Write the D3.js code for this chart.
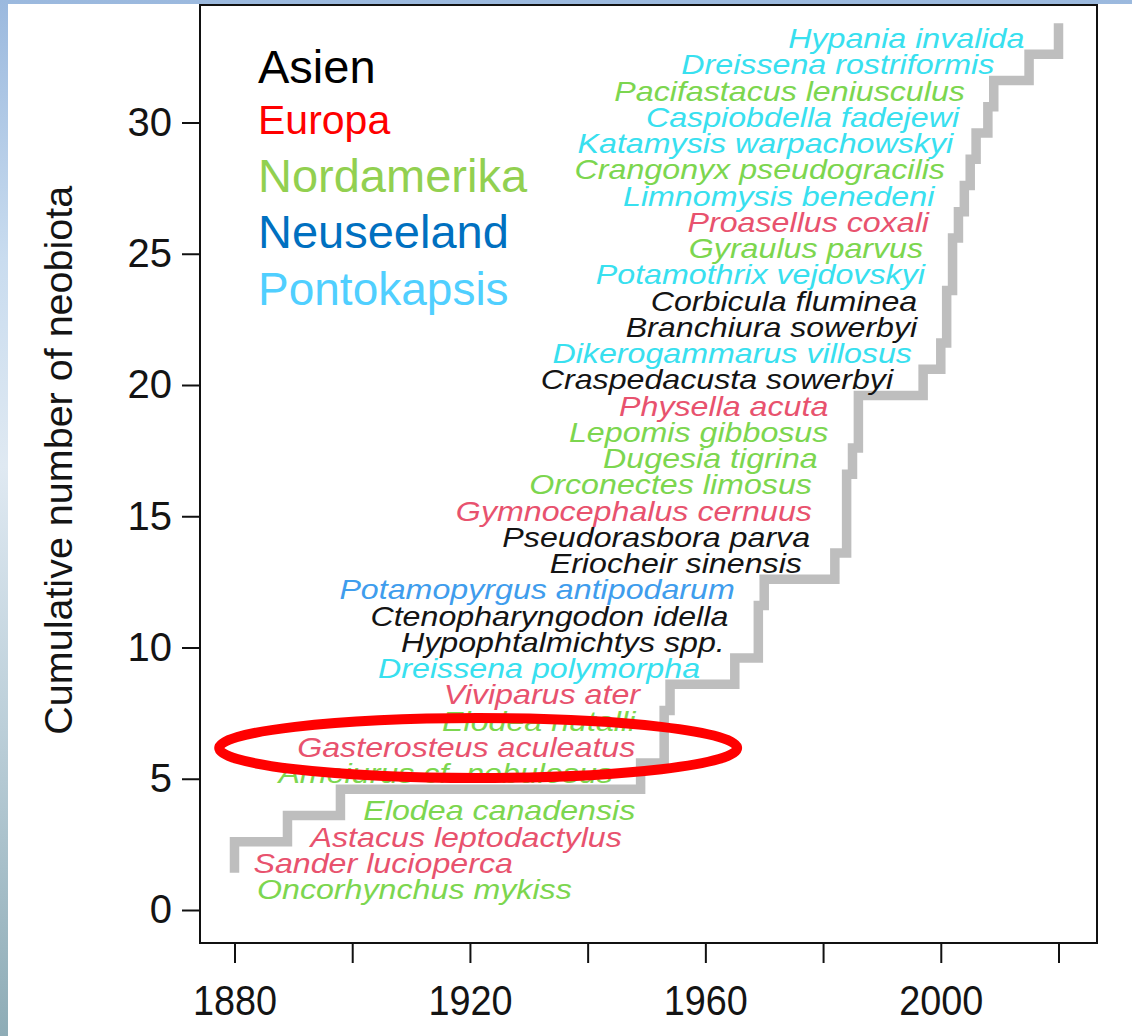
<!DOCTYPE html>
<html>
<head>
<meta charset="utf-8">
<script src="https://cdn.jsdelivr.net/npm/d3@7"></script>
<style>
  body { margin: 0; background: #fff; }
  svg { display: block; font-family: "Liberation Sans", Arial, sans-serif; }
</style>
</head>
<body>
<script>
// species in order of arrival (one step each)
const species = [
  "Oncorhynchus mykiss", "Sander lucioperca", "Astacus leptodactylus", "Elodea canadensis",
  "Ameiurus cf. nebulosus", "Gasterosteus aculeatus", "Elodea nutalli", "Viviparus ater",
  "Dreissena polymorpha", "Hypophtalmichtys spp.", "Ctenopharyngodon idella", "Potamopyrgus antipodarum",
  "Eriocheir sinensis", "Pseudorasbora parva", "Gymnocephalus cernuus", "Orconectes limosus",
  "Dugesia tigrina", "Lepomis gibbosus", "Physella acuta", "Craspedacusta sowerbyi",
  "Dikerogammarus villosus", "Branchiura sowerbyi", "Corbicula fluminea", "Potamothrix vejdovskyi",
  "Gyraulus parvus", "Proasellus coxali", "Limnomysis benedeni", "Crangonyx pseudogracilis",
  "Katamysis warpachowskyi", "Caspiobdella fadejewi", "Pacifastacus leniusculus", "Dreissena rostriformis",
  "Hypania invalida"
]
const origin = [
  "Nordamerika", "Europa", "Europa", "Nordamerika",
  "Nordamerika", "Europa", "Nordamerika", "Europa",
  "Pontokapsis", "Asien", "Asien", "Neuseeland",
  "Asien", "Asien", "Europa", "Nordamerika",
  "Nordamerika", "Nordamerika", "Europa", "Asien",
  "Pontokapsis", "Asien", "Asien", "Pontokapsis",
  "Nordamerika", "Europa", "Pontokapsis", "Nordamerika",
  "Pontokapsis", "Pontokapsis", "Nordamerika", "Pontokapsis",
  "Pontokapsis"
]
const years = [
  1880, 1880, 1889, 1898, 1949, 1953, 1953, 1954, 1965, 1969, 1969, 1970,
  1982, 1984, 1984, 1984, 1985, 1986, 1986, 1997, 2000, 2001, 2001, 2002,
  2002, 2003, 2004, 2005, 2006, 2008, 2009, 2015, 2020
]
// year at which each name label ends
const labelYears = [
  1937.3, 1927.3, 1945.8, 1948.1, 1944.3, 1948.1, 1948.1, 1948.9, 1959.1, 1963.3, 1963.9, 1965.0,
  1976.4, 1977.8, 1978.1, 1978.1, 1979.1, 1980.9, 1980.9, 1991.9, 1995.1, 1996.0, 1996.0, 1997.3,
  1997.0, 1998.0, 1998.9, 2000.7, 2002.1, 2003.1, 2004.1, 2009.1, 2014.2
]
const regions = ["Asien", "Europa", "Nordamerika", "Neuseeland", "Pontokapsis"]
const yTicks = [0, 5, 10, 15, 20, 25, 30]
const xTicks = [1880, 1900, 1920, 1940, 1960, 1980, 2000, 2020]
const xLabels = [1880, 1920, 1960, 2000]

const legendColor = {Asien: "#000000", Europa: "#ff0000", Nordamerika: "#92d050", Neuseeland: "#0070c0", Pontokapsis: "#50cfff"}
const textColor = {Asien: "#141414", Europa: "#e8526e", Nordamerika: "#7cd64f", Neuseeland: "#3f9ded", Pontokapsis: "#38e0ef"}
const legendSize = [47, 41, 47, 47, 46]

const width = 1132, height = 1036
const frame = {left: 200, right: 1097, top: 5, bottom: 943}
const stepOffset = 0.6

const x = d3.scaleLinear().domain([1880, 2020]).range([234.5, 1058.5])
const y = d3.scaleLinear().domain([0, 30]).range([910, 122.5])

const svg = d3.select("body").append("svg")
  .attr("width", width)
  .attr("height", height)

// slide background peeking out at the edges
const grad = svg.append("defs").append("linearGradient")
  .attr("id", "bg").attr("x1", 0).attr("y1", 0).attr("x2", 0).attr("y2", 1)
grad.selectAll("stop")
  .data([["0%", "#9bb9de"], ["25%", "#c9dcef"], ["45%", "#dfe9f2"], ["70%", "#bccfd9"], ["100%", "#8eacb6"]])
  .enter().append("stop")
  .attr("offset", d => d[0]).attr("stop-color", d => d[1])

svg.append("rect").attr("width", width).attr("height", height).attr("fill", "url(#bg)")
svg.append("rect").attr("x", 8).attr("y", 4).attr("width", width - 8).attr("height", height - 4).attr("fill", "#fff")

// step line
const pts = years.map((yr, i) => [yr, i + 1 + stepOffset])
const line = d3.line()
  .x(d => x(d[0]))
  .y(d => y(d[1]))
  .curve(d3.curveStepAfter)

svg.append("path")
  .attr("d", line(pts))
  .attr("fill", "none")
  .attr("stroke", "#bebebe")
  .attr("stroke-width", 9.5)
  .attr("stroke-linecap", "square")

// species names
svg.append("g").selectAll("text").data(species).enter().append("text")
  .attr("transform", (d, i) => {
    const v = (i + 1) + (i < 4 ? -0.23 : 0.19)
    return `translate(${x(labelYears[i])},${y(v)}) scale(1.13,1)`
  })
  .attr("dy", "0.33em")
  .attr("text-anchor", "end")
  .style("font-style", "italic")
  .style("font-size", "28.5px")
  .style("fill", (d, i) => textColor[origin[i]])
  .text(d => d)

// legend
const baselines = [83, 134, 192, 248, 305]
svg.append("g").selectAll("text").data(regions).enter().append("text")
  .attr("x", 258)
  .attr("y", (d, i) => baselines[i])
  .style("font-size", (d, i) => legendSize[i] + "px")
  .style("fill", d => legendColor[d])
  .text(d => d)

// highlight around Gasterosteus aculeatus
svg.append("ellipse")
  .attr("cx", x(1921.4))
  .attr("cy", y(6.17))
  .attr("rx", x(1921.4 + 44) - x(1921.4))
  .attr("ry", y(6.17 - 1.14) - y(6.17))
  .attr("fill", "none")
  .attr("stroke", "#ff0000")
  .attr("stroke-width", 10)

// frame
svg.append("rect")
  .attr("x", frame.left).attr("y", frame.top)
  .attr("width", frame.right - frame.left).attr("height", frame.bottom - frame.top)
  .attr("fill", "none").attr("stroke", "#111").attr("stroke-width", 2)

// axes
const yAxis = svg.append("g")
  .attr("transform", `translate(${frame.left},0)`)
  .call(d3.axisLeft(y).tickValues(yTicks).tickSize(18).tickPadding(10))
yAxis.select(".domain").remove()
yAxis.selectAll("line").attr("stroke", "#111").attr("stroke-width", 2)
yAxis.selectAll("text")
  .style("font-size", "40px")
  .style("font-family", "'Liberation Sans', Arial, sans-serif")
  .attr("fill", "#141414")

const xAxis = svg.append("g")
  .attr("transform", `translate(0,${frame.bottom})`)
  .call(d3.axisBottom(x).tickValues(xTicks).tickSize(20).tickPadding(22)
    .tickFormat(d => xLabels.includes(d) ? d : ""))
xAxis.select(".domain").remove()
xAxis.selectAll("line").attr("stroke", "#111").attr("stroke-width", 2)
xAxis.selectAll("text")
  .attr("transform", "scale(0.9,1)")
  .style("font-size", "42px")
  .style("font-family", "'Liberation Sans', Arial, sans-serif")
  .attr("fill", "#141414")

// y title
svg.append("text")
  .attr("transform", `translate(72,${(y(0) + y(30)) / 2 - 56}) rotate(-90)`)
  .attr("text-anchor", "middle")
  .style("font-size", "39.5px")
  .style("fill", "#141414")
  .text("Cumulative number of neobiota")
</script>
</body>
</html>
